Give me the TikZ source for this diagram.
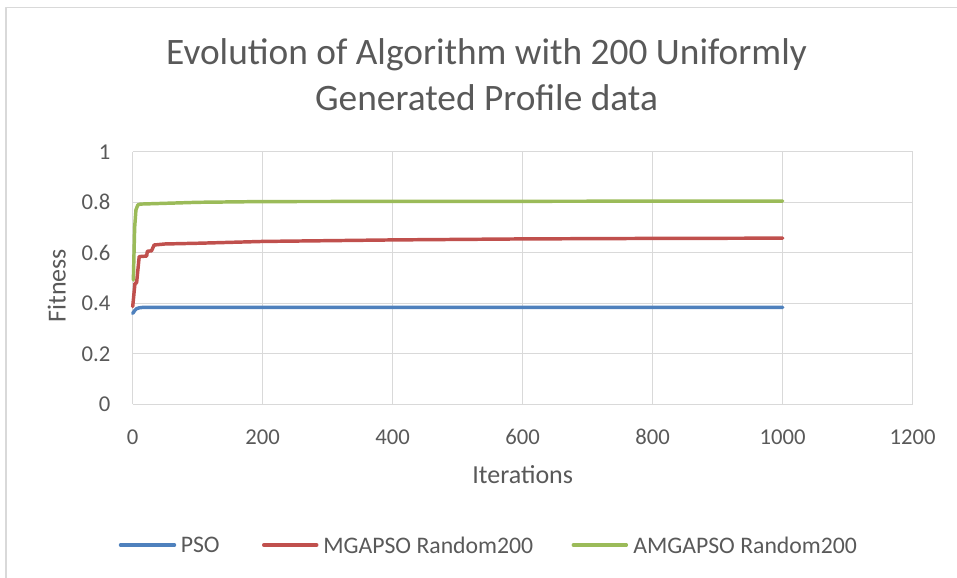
\documentclass[tikz,border=0pt]{standalone}
\usepackage{fontspec}
\setmainfont{Carlito}
\usetikzlibrary{positioning}

\definecolor{txtgray}{HTML}{595959}
\definecolor{gridgray}{HTML}{D9D9D9}
\definecolor{psoblue}{HTML}{4F81BD}
\definecolor{mgared}{HTML}{C0504D}
\definecolor{amggreen}{HTML}{9BBB59}

\begin{document}
\begin{tikzpicture}[x=0.75pt,y=-0.75pt,line join=round,
                    every node/.style={text=txtgray,inner sep=0pt}]
  \tikzstyle{grid line}=[draw=gridgray,line width=1pt]
  \tikzstyle{tick label}=[font=\fontsize{17}{20}\selectfont]
  \tikzstyle{legend label}=[font=\fontsize{17.8}{21}\selectfont,anchor=west]
  \tikzstyle{axis title}=[font=\fontsize{19.5}{23}\selectfont]
  \tikzstyle{series}=[line width=2.6pt,line cap=round]

  \useasboundingbox (0,0) rectangle (957,578);
  % chart frame
  \draw[grid line] (6,578) -- (6,7.5) -- (957,7.5);

  % title
  \node[font=\fontsize{28}{34.5}\selectfont,align=center] (title) at (486.5,75)
    {Evolution of Algorithm with 200 Uniformly\\Generated Profile data};

  % plot area: iterations 0..1200, fitness 0..1
  \begin{scope}[shift={(132.7,404.3)},xscale=0.65,yscale=-252.5]
    \foreach \i in {0,200,...,1200}
      \draw[grid line] (\i,0) -- (\i,1);
    \foreach \v in {0,0.2,...,1.0}
      \draw[grid line] (0,\v) -- (1200,\v);
    \foreach \i in {0,200,...,1200}
      \node[tick label] (xt\i) at (\i,-0.13) {\i};
    \foreach \v/\lab in {0/0,0.2/0.2,0.4/0.4,0.6/0.6,0.8/0.8,1/1}
      \node[tick label,anchor=east] (yt\lab) at (-34,\v) {\lab};

    \node[axis title] (xtitle) at (600,-0.277) {Iterations};
    \node[axis title,rotate=90] (ytitle) at (-117,0.47) {Fitness};

    % series
    \draw[series,psoblue] plot coordinates {(0,0.360) (3,0.371) (6,0.379)
      (10,0.382) (16,0.384) (100,0.384) (1000,0.384)};
    \draw[series,mgared] plot coordinates {(0,0.387) (3.5,0.479) (6,0.481)
      (10,0.585) (21.5,0.587) (22.5,0.606) (29,0.608) (33,0.631) (50,0.635)
      (103,0.638) (200,0.645) (400,0.651) (600,0.655) (800,0.657) (1000,0.658)};
    \draw[series,amggreen] plot coordinates {(1,0.492) (3,0.70) (5,0.77)
      (8,0.790) (12,0.793) (50,0.796) (100,0.800) (200,0.803) (1000,0.805)};
  \end{scope}

  % legend
  \node[legend label] (lpso) at (180.5,545) {PSO};
  \node[legend label] (lmga) at (323,545) {MGAPSO Random200};
  \node[legend label] (lamg) at (633,545) {AMGAPSO Random200};
  \coordinate[left=54 of lpso.west,xshift=-4.5] (kpso);
  \coordinate[left=53 of lmga.west,xshift=-4.7] (kmga);
  \coordinate[left=53 of lamg.west,xshift=-5] (kamg);
  \draw[series,psoblue] (kpso) -- ([xshift=-4.5]lpso.west);
  \draw[series,mgared] (kmga) -- ([xshift=-4.7]lmga.west);
  \draw[series,amggreen] (kamg) -- ([xshift=-5]lamg.west);
\end{tikzpicture}
\end{document}
